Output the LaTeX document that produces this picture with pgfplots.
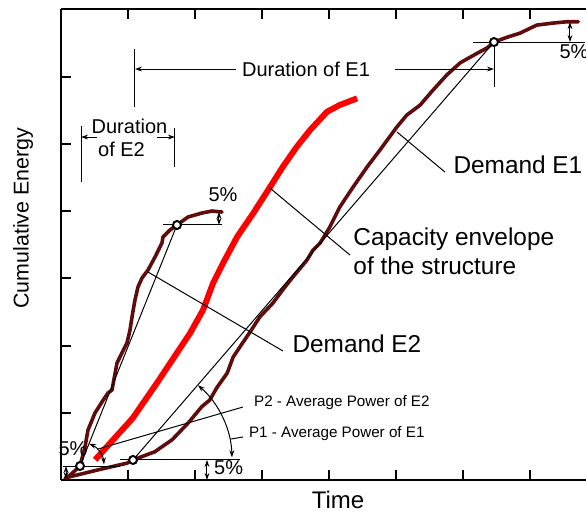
\documentclass[border=0pt]{standalone}
\usepackage{fontspec}
\setmainfont{Liberation Sans}
\usepackage{pgfplots}
\pgfplotsset{compat=1.18}
\usetikzlibrary{arrows.meta}
\definecolor{demand}{RGB}{95,12,12}
\newcommand\fbig{\fontsize{12.2}{14.6}\selectfont}
\newcommand\fsmall{\fontsize{8.4}{10}\selectfont}
\newcommand\fp{\fontsize{7.6}{9}\selectfont}

\begin{document}
\begin{tikzpicture}[>={Stealth[length=3.5pt,width=2.4pt]}]
\useasboundingbox (-30.5pt,-16pt) rectangle (262.5pt,240pt);
\begin{axis}[
  at={(0,0)}, anchor=south west,
  scale only axis, width=262.5pt, height=235.5pt,
  xmin=0, xmax=7.836, ymin=0, ymax=7.01,
  axis y line*=left,
  xtick={1,...,7}, ytick={1,...,6},
  xticklabel=\empty, yticklabel=\empty,
  tick align=inside, major tick length=5pt,
  every tick/.style={black, line width=1pt},
  axis line style={line width=1pt},
  clip=false,
  xlabel={Time}, ylabel={Cumulative Energy},
  xlabel style={at={(axis description cs:0.5276,-0.0615)}, anchor=base, inner sep=0pt, font=\fontsize{12}{14}\selectfont},
  ylabel style={at={(axis description cs:-0.0724,0.556)}, anchor=center, font=\fontsize{10.7}{13}\selectfont},
  every node/.append style={font=\fsmall},
]
% Demand E2
\addplot[demand, line width=1.8pt, line join=round, line cap=round] coordinates {
  (0.090,0.030) (0.284,0.208) (0.358,0.491) (0.403,0.744) (0.507,0.997)
  (0.612,1.161) (0.701,1.295) (0.761,1.339) (0.836,1.741) (0.910,1.890)
  (0.985,2.039) (1.030,2.232) (1.060,2.426) (1.104,2.679) (1.149,2.872)
  (1.209,3.006) (1.299,3.125) (1.403,3.318) (1.507,3.527) (1.522,3.616)
  (1.627,3.720) (1.731,3.795) (1.896,3.914) (2.104,3.973) (2.254,4.003)
  (2.403,3.988)};
% Demand E1
\addplot[demand, line width=1.8pt, line join=round, line cap=round] coordinates {
  (0.06,0.03) (0.55,0.15) (0.985,0.25) (1.075,0.298) (1.40,0.42)
  (1.66,0.60) (1.90,0.85) (2.10,1.09) (2.22,1.19) (2.33,1.38)
  (2.48,1.59) (2.57,1.83) (2.67,1.98) (2.82,2.20) (2.97,2.43)
  (3.16,2.63) (3.31,2.83) (3.46,3.02) (3.67,3.27) (3.76,3.42)
  (3.87,3.53) (4.01,3.76) (4.16,4.06) (4.36,4.36) (4.57,4.66)
  (4.76,4.91) (5.01,5.25) (5.16,5.43) (5.36,5.58) (5.55,5.80)
  (5.76,6.03) (5.96,6.21) (6.21,6.35) (6.36,6.43) (6.463,6.518)
  (6.66,6.59) (6.85,6.65) (7.10,6.77) (7.34,6.80) (7.55,6.82) (7.72,6.82)};
% Capacity envelope
\addplot[red, line width=3pt, line join=round] coordinates {
  (0.51,0.30) (0.78,0.60) (1.07,0.92) (1.43,1.44) (1.73,1.89)
  (1.93,2.19) (2.12,2.53) (2.27,2.93) (2.42,3.23) (2.63,3.62)
  (2.87,3.97) (3.12,4.36) (3.31,4.66) (3.52,4.96) (3.72,5.21)
  (3.97,5.48) (4.16,5.58) (4.42,5.68)};
% average power secants
\addplot[black, line width=0.5pt] coordinates {(0.284,0.208) (1.731,3.795)};
\addplot[black, line width=0.5pt] coordinates {(1.075,0.298) (6.463,6.518)};
% 5% points
\addplot[only marks, mark=*, mark size=2pt, mark options={fill=white, draw=black, line width=1pt}]
  coordinates {(0.284,0.208) (1.731,3.795) (1.075,0.298) (6.463,6.518)};

\begin{scope}[line width=0.5pt]
% Duration of E1
\draw (axis cs:1.104,6.414) -- (axis cs:1.104,5.551);
\draw[->] (axis cs:2.612,6.116) -- (axis cs:1.104,6.116);
\node at (axis cs:3.657,6.116) {Duration of E1};
\draw[->] (axis cs:4.985,6.116) -- (axis cs:6.463,6.116);
\draw (axis cs:6.463,6.518) -- (axis cs:6.463,5.848);
% Duration of E2
\draw (axis cs:0.299,5.268) -- (axis cs:0.299,4.435);
\draw (axis cs:1.701,5.238) -- (axis cs:1.701,4.658);
\draw[->] (axis cs:0.537,5.104) -- (axis cs:0.299,5.104);
\draw[->] (axis cs:1.433,5.104) -- (axis cs:1.701,5.104);
\node at (axis cs:1.022,5.268) {Duration};
\node at (axis cs:0.903,4.926) {of E2};
% E2 top 5%
\draw (axis cs:1.522,3.795) -- (axis cs:2.403,3.795);
\draw[<->] (axis cs:2.358,3.988) -- (axis cs:2.358,3.795);
\node at (axis cs:2.418,4.241) {5\%};
% E2 bottom 5% and P2
\draw (axis cs:0.030,0.208) -- (axis cs:0.881,0.208);
\draw[<->] (axis cs:0.075,0.208) -- (axis cs:0.075,0.015);
\node at (axis cs:0.179,0.461) {5\%};
\draw[<->] (axis cs:0.284,0.208) ++(68:12pt) arc[start angle=68, end angle=4, radius=12pt];
\draw (axis cs:0.552,0.461) -- (axis cs:2.716,1.086);
\node[anchor=west, font=\fp] at (axis cs:2.776,1.146) {P2 - Average Power of E2};
% E1 bottom 5% and P1
\draw (axis cs:0.881,0.298) -- (axis cs:2.672,0.298);
\draw[<->] (axis cs:2.179,0.298) -- (axis cs:2.179,0);
\node[anchor=west] at (axis cs:2.18,0.179) {5\%};
\draw[<->] (axis cs:1.075,0.298) ++(49:49.5pt) arc[start angle=49, end angle=1.5, radius=49.5pt];
\draw (axis cs:2.537,0.610) -- (axis cs:2.716,0.640);
\node[anchor=west, font=\fp] at (axis cs:2.70,0.685) {P1 - Average Power of E1};
% E1 top 5%
\draw (axis cs:6.149,6.518) -- (axis cs:7.821,6.518);
\draw[<->] (axis cs:7.597,6.815) -- (axis cs:7.597,6.518);
\node at (axis cs:7.657,6.369) {5\%};
% leaders
\draw (axis cs:1.299,3.095) -- (axis cs:3.313,1.920);
\node[anchor=base west, inner sep=0pt, font=\fbig] at (axis cs:3.448,1.890) {Demand E2};
\draw (axis cs:3.119,4.345) -- (axis cs:4.313,3.348);
\node[anchor=base west, inner sep=0pt, font=\fbig] at (axis cs:4.358,3.497) {Capacity envelope};
\node[anchor=base west, inner sep=0pt, font=\fbig] at (axis cs:4.358,3.051) {of the structure};
\draw (axis cs:5.015,5.179) -- (axis cs:5.731,4.583);
\node[anchor=base west, inner sep=0pt, font=\fbig] at (axis cs:5.851,4.568) {Demand E1};
\end{scope}
\end{axis}
\end{tikzpicture}
\end{document}
